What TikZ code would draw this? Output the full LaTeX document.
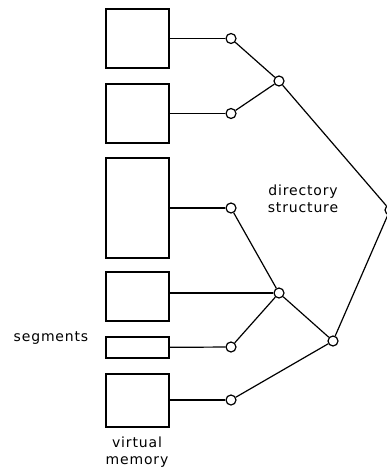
\documentclass[tikz,border=0pt]{standalone}
\usepackage{fontspec}
\setmainfont{DejaVu Sans}[LetterSpace=6]
\begin{document}
\begin{tikzpicture}[x=1pt,y=-1pt,
  seg/.style={draw,line width=1.2pt,minimum width=63pt,inner sep=0pt},
  dot/.style={circle,draw,line width=1.2pt,fill=white,minimum size=10pt,inner sep=0pt},
  lbl/.style={font=\fontsize{14}{17.5}\selectfont,align=center,inner sep=0pt},
  every path/.style={line width=1.2pt}]
\useasboundingbox (0,0) rectangle (386,468);
% segments
\node[seg,minimum height=59pt] (b1) at (137.5,38.5) {};
\node[seg,minimum height=59pt] (b2) at (137.5,113.5) {};
\node[seg,minimum height=100pt] (b3) at (137.5,208) {};
\node[seg,minimum height=49pt] (b4) at (137.5,296.5) {};
\node[seg,minimum height=21pt] (b5) at (137.5,347.5) {};
\node[seg,minimum height=53pt] (b6) at (137.5,400.5) {};
% directory nodes
\node[dot] (c1) at (231,38.5) {};
\node[dot] (c2) at (231,113.5) {};
\node[dot] (c3) at (231,208) {};
\node[dot] (c5) at (231,347) {};
\node[dot] (c6) at (231,400) {};
\node[dot] (n1) at (279,81) {};
\node[dot] (n2) at (279,293) {};
\node[dot] (n3) at (333,341) {};
\node[dot] (r) at (390,210) {};
% connectors
\draw (b1) -- (c1);
\draw (b2) -- (c2);
\draw (b3) -- (c3);
\draw (b4.east |- n2) -- (n2);
\draw (b5) -- (c5);
\draw (b6.east |- c6) -- (c6);
\draw (c1) -- (n1);
\draw (c2) -- (n1);
\draw (c3) -- (n2);
\draw (c5) -- (n2);
\draw (n2) -- (n3);
\draw (c6) -- (n3);
\draw (n1) -- (r);
\draw (n3) -- (r);
% labels
\node[lbl] (ls) at (51,338.5) {segments};
\node[lbl] (lv) at (137,452) {virtual\\memory};
\node[lbl] (ld) at (303,199) {directory\\structure};
\end{tikzpicture}
\end{document}
